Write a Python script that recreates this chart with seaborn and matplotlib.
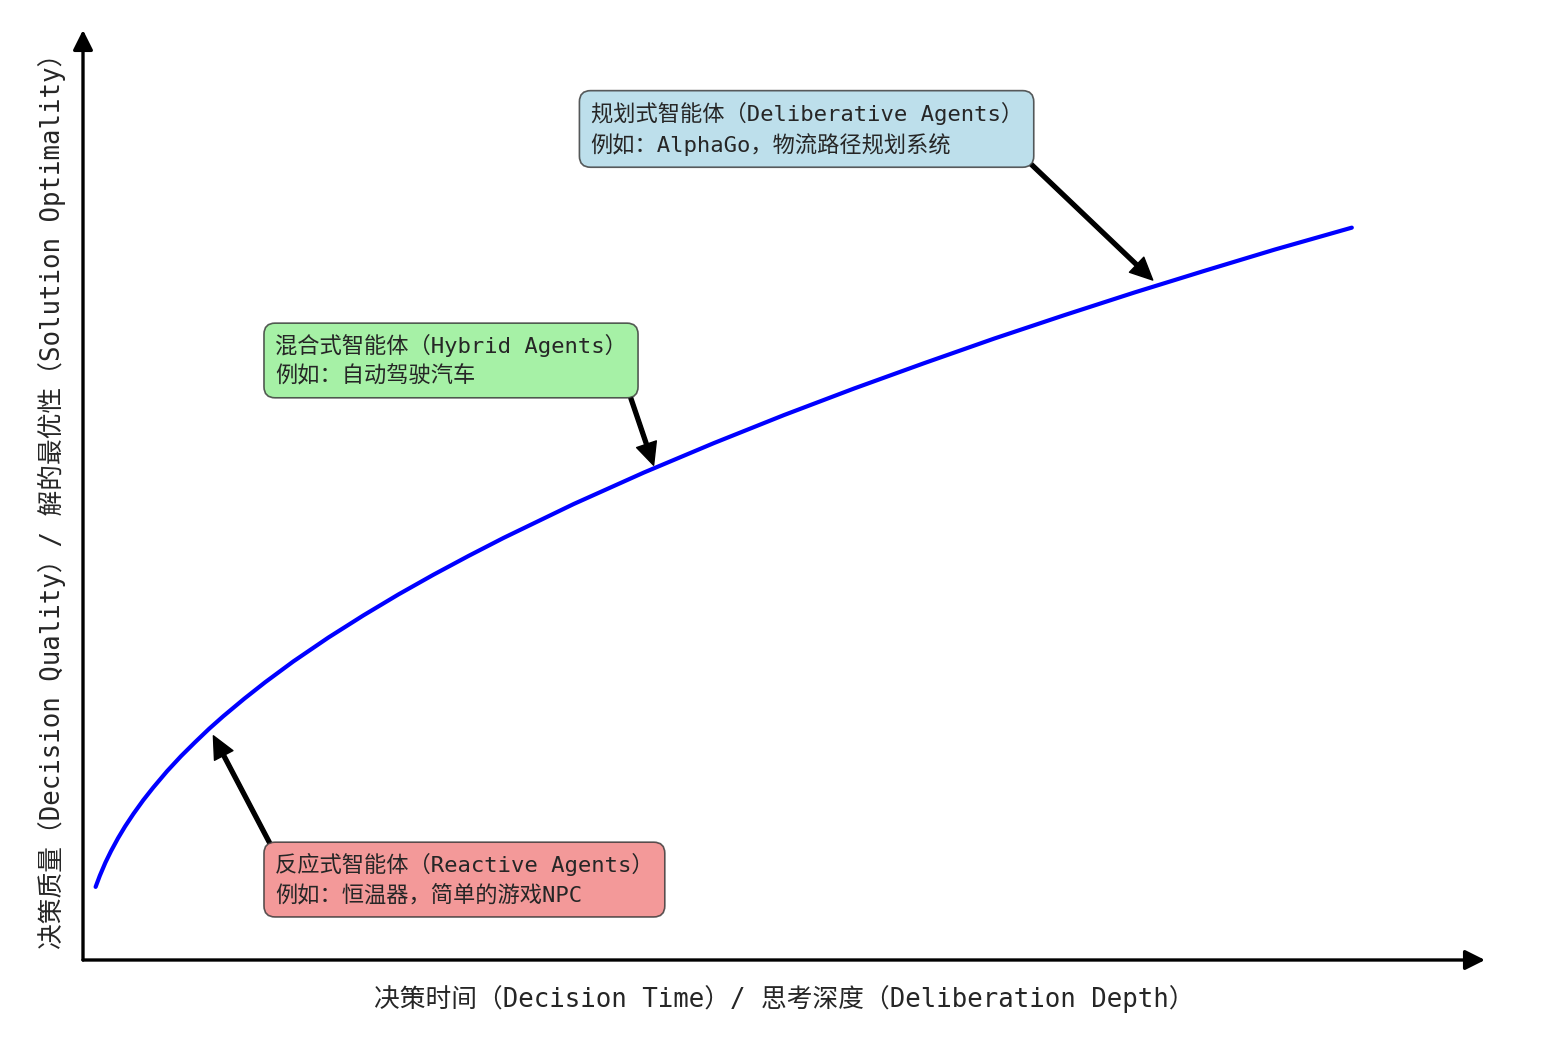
import numpy as np
import pandas as pd
import seaborn as sns
import matplotlib.pyplot as plt

# curve (decision time vs. decision quality)
time_vals = [0.09, 0.12, 0.16, 0.2, 0.25, 0.3, 0.36, 0.43, 0.5, 0.6, 0.7, 0.8, 0.9,
             1.0, 1.15, 1.3, 1.5, 1.75, 2.0, 2.25, 2.5, 2.75, 3.0, 3.5, 4.0, 4.5,
             5.0, 5.5, 6.0, 6.5, 7.0, 7.5, 8.0, 8.5, 9.05]
quality_vals = [0.300, 0.346, 0.400, 0.447, 0.500, 0.548, 0.600, 0.656, 0.707, 0.775,
                0.837, 0.894, 0.949, 1.000, 1.072, 1.140, 1.225, 1.323, 1.414, 1.500,
                1.581, 1.658, 1.732, 1.871, 2.000, 2.121, 2.236, 2.345, 2.449, 2.550,
                2.646, 2.739, 2.828, 2.915, 3.005]

# annotations: text, arrow tip, text anchor, box colour
agent_texts = ['反应式智能体（Reactive Agents）\n例如：恒温器，简单的游戏NPC',
               '混合式智能体（Hybrid Agents）\n例如：自动驾驶汽车',
               '规划式智能体（Deliberative Agents）\n例如：AlphaGo，物流路径规划系统']
agent_tips = [(0.93, 0.92), (4.07, 2.03), (7.63, 2.79)]
agent_text_pos = [(1.37, 0.33), (1.37, 2.46), (3.62, 3.41)]
agent_colors = ['lightcoral', 'lightgreen', 'lightblue']

x_label = '决策时间（Decision Time）/ 思考深度（Deliberation Depth）'
y_label = '决策质量（Decision Quality）/ 解的最优性（Solution Optimality）'

sns.set_style('white')
# monospace latin like the original, CJK glyphs fall back to Noto
plt.rcParams['font.family'] = ['DejaVu Sans Mono', 'Noto Sans CJK SC']

df = pd.DataFrame({'time': time_vals, 'quality': quality_vals})

fig = plt.figure(figsize=(15.47, 10.46), dpi=100)
ax = fig.add_axes([83 / 1547, 86 / 1046, (1485 - 83) / 1547, (960 - 30) / 1046])

sns.lineplot(data=df, x='time', y='quality', ax=ax, color='blue', linewidth=3)

ax.set_xlim(0, 10)
ax.set_ylim(0, 3.816)
for s in ax.spines.values():
    s.set_visible(False)
ax.set_xticks([])
ax.set_yticks([])
ax.set_xlabel(x_label, fontsize=18.5, labelpad=18)
ax.set_ylabel(y_label, fontsize=18.5, labelpad=12)

# axis arrows
for end in [(1, 0), (0, 1)]:
    ax.annotate('', xy=end, xytext=(0, 0), xycoords='axes fraction',
                arrowprops=dict(arrowstyle='-|>', lw=2.4, color='black', mutation_scale=30,
                                shrinkA=0, shrinkB=0), annotation_clip=False)

for txt, tip, pos, col in zip(agent_texts, agent_tips, agent_text_pos, agent_colors):
    ax.annotate(txt, xy=tip, xytext=pos, ha='left', va='center', fontsize=16,
                linespacing=1.45,
                bbox=dict(boxstyle='round,pad=0.5', fc=col, ec='#333333', lw=1.2, alpha=0.8),
                arrowprops=dict(facecolor='black', edgecolor='black', shrink=0.0,
                                width=2.8, headwidth=15, headlength=16))

plt.savefig('out.png', dpi=100)
